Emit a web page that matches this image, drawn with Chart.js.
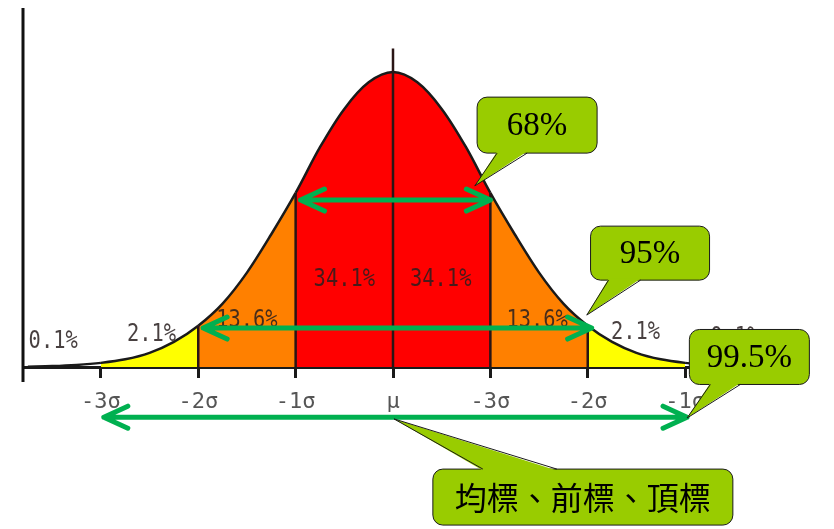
<!DOCTYPE html>
<html>
<head>
<meta charset="utf-8">
<script src="https://cdn.jsdelivr.net/npm/chart.js@4/dist/chart.umd.min.js"></script>
<style>
  html, body { margin: 0; padding: 0; background: #fff; }
  #wrap { width: 834px; height: 529px; position: relative; }
</style>
</head>
<body>
<div id="wrap"><canvas id="bellChart"></canvas></div>
<script>
// curve (x in sigma, height relative to the peak)
const curveX = [-3.75, -3.5, -3.25, -3, -2.75, -2.5, -2.25, -2, -1.75, -1.5, -1.25, -1, -0.75, -0.5, -0.25,
    0, 0.25, 0.5, 0.75, 1, 1.25, 1.5, 1.75, 2, 2.25, 2.5, 2.75, 3, 3.25, 3.5, 3.75];
const curveY = [0.001, 0.003, 0.007, 0.014, 0.026, 0.048, 0.085, 0.14, 0.215, 0.32, 0.45, 0.59, 0.745, 0.875, 0.965,
    1.0, 0.965, 0.875, 0.745, 0.59, 0.45, 0.32, 0.215, 0.14, 0.085, 0.048, 0.026, 0.014, 0.007, 0.003, 0.001];

const tickValues = [-3, -2, -1, 0, 1, 2, 3];
const tickLabels = ['-3σ', '-2σ', '-1σ', 'μ', '-3σ', '-2σ', '-1σ'];

// vertical lines between the bands
const dividerX = [-2, -1, 0, 1, 2];
const dividerTop = [0.14, 0.59, 1.08, 0.59, 0.14];

// share of each band
const pctLabels = ['0.1%', '2.1%', '13.6%', '34.1%', '34.1%', '13.6%', '2.1%', '0.1%'];
const pctX = [-3.49, -2.48, -1.5, -0.5, 0.49, 1.48, 2.49, 3.51];
const pctY = [0.085, 0.108, 0.156, 0.295, 0.295, 0.156, 0.115, 0.1];

// double arrows
const arrowFrom = [-0.95, -1.95, -2.97];
const arrowTo = [1.0, 2.04, 3.02];
const arrowY = [0.566, 0.132, -0.17];

const callouts = [
    { text: '68%', x: 1.48, y: 0.82, w: 120, h: 56, tipX: 0.84, tipY: 0.614, side: 'bottom', base: [20, 50], font: '33px "Liberation Serif"' },
    { text: '95%', x: 2.64, y: 0.386, w: 119, h: 54, tipX: 1.99, tipY: 0.176, side: 'bottom', base: [18, 50], font: '33px "Liberation Serif"' },
    { text: '99.5%', x: 3.66, y: 0.034, w: 120, h: 55, tipX: 3.02, tipY: -0.173, side: 'bottom', base: [21, 51], font: '33px "Liberation Serif"' },
    { text: '均標、前標、頂標', x: 1.95, y: -0.441, w: 300, h: 56, tipX: 0.01, tipY: -0.176, side: 'top', base: [50, 124], font: '32px "Noto Sans CJK TC"' },
];

function bandColor(x) {
    const a = Math.abs(x);
    if (a < 1) return '#FF0000';
    if (a < 2) return '#FF8000';
    if (a < 3) return '#FFFF00';
    return 'rgba(255,255,255,0)';
}

function roundRect(ctx, x, y, w, h, r) {
    ctx.beginPath();
    ctx.moveTo(x + r, y);
    ctx.arcTo(x + w, y, x + w, y + h, r);
    ctx.arcTo(x + w, y + h, x, y + h, r);
    ctx.arcTo(x, y + h, x, y, r);
    ctx.arcTo(x, y, x + w, y, r);
    ctx.closePath();
}

const overlayPlugin = {
    id: 'overlay',
    afterDatasetsDraw(chart) {
        const ctx = chart.ctx;
        const xs = chart.scales.x, ys = chart.scales.y;
        const area = chart.chartArea;
        ctx.save();

        // left axis line, runs a bit under the baseline
        ctx.strokeStyle = '#111';
        ctx.lineWidth = 3;
        ctx.beginPath();
        ctx.moveTo(area.left, area.top);
        ctx.lineTo(area.left, area.bottom + 15);
        ctx.stroke();

        // percentages (narrow mono look like the original)
        ctx.font = '24px "DejaVu Sans Mono"';
        ctx.fillStyle = 'rgba(40,30,30,0.85)';
        ctx.textAlign = 'center';
        ctx.textBaseline = 'middle';
        pctLabels.forEach((t, i) => {
            const px = xs.getPixelForValue(pctX[i]);
            const py = ys.getPixelForValue(pctY[i]);
            ctx.save();
            ctx.translate(px, py);
            ctx.scale(0.85, 1);
            ctx.fillText(t, 0, 0);
            ctx.restore();
        });

        // green arrows
        ctx.strokeStyle = '#00B050';
        ctx.lineWidth = 5;
        ctx.lineCap = 'round';
        ctx.lineJoin = 'round';
        arrowY.forEach((v, i) => {
            const y = ys.getPixelForValue(v);
            const x1 = xs.getPixelForValue(arrowFrom[i]);
            const x2 = xs.getPixelForValue(arrowTo[i]);
            ctx.beginPath();
            ctx.moveTo(x1, y);
            ctx.lineTo(x2, y);
            ctx.moveTo(x1 + 24, y - 11);
            ctx.lineTo(x1, y);
            ctx.lineTo(x1 + 24, y + 11);
            ctx.moveTo(x2 - 24, y - 11);
            ctx.lineTo(x2, y);
            ctx.lineTo(x2 - 24, y + 11);
            ctx.stroke();
        });
        ctx.restore();
    },
    afterDraw(chart) {
        const ctx = chart.ctx;
        const xs = chart.scales.x, ys = chart.scales.y;
        ctx.save();
        callouts.forEach(c => {
            const bx = xs.getPixelForValue(c.x) - c.w / 2;
            const by = ys.getPixelForValue(c.y) - c.h / 2;
            const tx = xs.getPixelForValue(c.tipX);
            const ty = ys.getPixelForValue(c.tipY);

            ctx.fillStyle = '#99CC00';
            ctx.strokeStyle = '#1a1a1a';
            ctx.lineWidth = 1;
            roundRect(ctx, bx, by, c.w, c.h, 10);
            ctx.fill();
            ctx.stroke();

            const edgeY = c.side === 'top' ? by : by + c.h;
            const inset = c.side === 'top' ? 1.5 : -1.5;
            ctx.beginPath();
            ctx.moveTo(bx + c.base[0], edgeY + inset);
            ctx.lineTo(tx, ty);
            ctx.lineTo(bx + c.base[1], edgeY + inset);
            ctx.closePath();
            ctx.fill();
            ctx.beginPath();
            ctx.moveTo(bx + c.base[0], edgeY);
            ctx.lineTo(tx, ty);
            ctx.lineTo(bx + c.base[1], edgeY);
            ctx.stroke();

            ctx.fillStyle = '#000';
            ctx.font = c.font;
            ctx.textAlign = 'center';
            ctx.textBaseline = 'middle';
            ctx.fillText(c.text, bx + c.w / 2, by + c.h / 2 + 1);
        });
        ctx.restore();
    }
};

const dividerSets = dividerX.map((x, i) => ({
    data: [{ x: x, y: 0 }, { x: x, y: dividerTop[i] }],
    borderColor: '#2a1515',
    borderWidth: 2.5,
    pointRadius: 0,
    fill: false,
    clip: false,
}));

const ctx = document.getElementById('bellChart').getContext('2d');
new Chart(ctx, {
    type: 'line',
    data: {
        datasets: [
            ...dividerSets,
            {
                data: curveX.map((x, i) => ({ x: x, y: curveY[i] })),
                borderColor: '#1a1a1a',
                borderWidth: 2.5,
                pointRadius: 0,
                cubicInterpolationMode: 'monotone',
                fill: 'origin',
                backgroundColor: 'rgba(255,255,255,0)',
                segment: {
                    backgroundColor: c => bandColor((c.p0.parsed.x + c.p1.parsed.x) / 2),
                },
            },
        ],
    },
    options: {
        responsive: true,
        maintainAspectRatio: false,
        animation: false,
        layout: { padding: { left: 23, right: 71, top: 8, bottom: 102 } },
        plugins: { legend: { display: false }, tooltip: { enabled: false } },
        scales: {
            x: {
                type: 'linear',
                min: -3.8,
                max: 3.8,
                afterBuildTicks: s => { s.ticks = tickValues.map(v => ({ value: v })); },
                afterFit: s => { s.height = 60; },
                border: { display: true, color: '#1a1a1a', width: 3 },
                grid: { drawOnChartArea: false, drawTicks: true, tickLength: 11, color: '#1a1a1a', lineWidth: 3 },
                ticks: {
                    autoSkip: false,
                    maxRotation: 0,
                    padding: 11,
                    color: '#555',
                    font: { family: 'DejaVu Sans Mono', size: 22 },
                    callback: (v, i) => tickLabels[i],
                },
            },
            y: { display: false, min: 0, max: 1.217 },
        },
    },
    plugins: [overlayPlugin],
});
</script>
</body>
</html>
